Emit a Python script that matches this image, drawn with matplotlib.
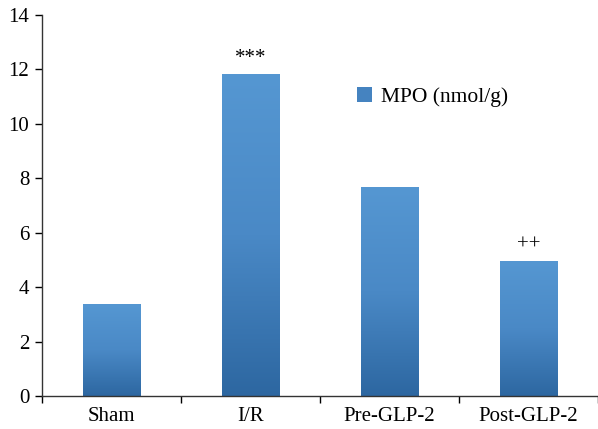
import matplotlib
matplotlib.use('Agg')
import matplotlib.pyplot as plt
import numpy as np
from matplotlib.colors import LinearSegmentedColormap
from matplotlib.patches import Patch

# data
categories = ['Sham', 'I/R', 'Pre-GLP-2', 'Post-GLP-2']
mpo = [3.38, 11.8, 7.65, 4.96]
marks = ['', '***', '', '++']

plt.rcParams['font.family'] = ['Liberation Serif', 'DejaVu Serif']

fig = plt.figure(figsize=(5.98, 4.29), dpi=100)
ax = fig.add_axes([0.070, 0.077, 0.930, 0.888])

x = np.arange(len(categories))
bars = ax.bar(x, mpo, width=0.41, color='none', edgecolor='none')

# gradient fill: lighter top, darker bottom
cmap = LinearSegmentedColormap.from_list('blu', ['#2d67a1', '#4a89c6', '#5597d2'])
grad = np.linspace(0, 1, 256).reshape(-1, 1)
for b in bars:
    x0, y0 = b.get_x(), b.get_y()
    ax.imshow(grad, cmap=cmap, aspect='auto', origin='lower',
              extent=(x0, x0 + b.get_width(), y0, y0 + b.get_height()), zorder=2)

for xi, v, m in zip(x, mpo, marks):
    if m:
        ax.text(xi, v + 0.25, m, ha='center', va='bottom', fontsize=15)

ax.set_xlim(-0.5, len(categories) - 0.5)
ax.set_ylim(0, 14)
ax.set_yticks(range(0, 15, 2))
ax.set_xticks(np.arange(-0.5, len(categories), 1.0))
ax.set_xticklabels([])
ax.set_xticks(x, minor=True)
ax.set_xticklabels(categories, minor=True)
ax.tick_params(axis='x', which='minor', length=0, labelsize=15, pad=8)
ax.tick_params(axis='x', which='major', length=5, width=1)
ax.tick_params(axis='y', length=5, width=1, labelsize=15, pad=4)

ax.spines['top'].set_visible(False)
ax.spines['right'].set_visible(False)
for s in ('left', 'bottom'):
    ax.spines[s].set_color('#333333')
    ax.spines[s].set_linewidth(1)

ax.legend(handles=[Patch(facecolor='#4583c0', label='MPO (nmol/g)')],
          loc='center left', bbox_to_anchor=(0.566, 0.785), frameon=False,
          fontsize=15.5, handlelength=0.7, handleheight=0.7, handletextpad=0.45,
          borderpad=0, borderaxespad=0)

fig.savefig('out.png', dpi=100)
